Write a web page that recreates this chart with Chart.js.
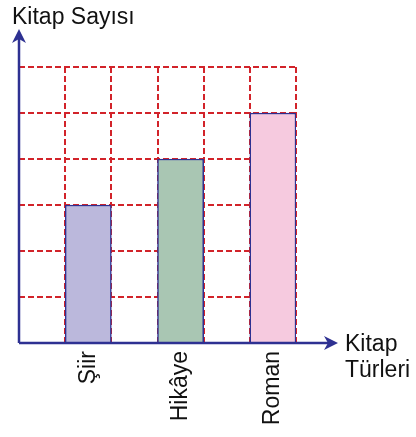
<!DOCTYPE html>
<html>
<head>
<meta charset="utf-8">
<script src="https://cdn.jsdelivr.net/npm/chart.js@4/dist/chart.umd.min.js"></script>
<style>
  html, body { margin: 0; padding: 0; background: #fff; }
  #wrap { width: 416px; height: 437px; position: relative; }
</style>
</head>
<body>
<div id="wrap"><canvas id="bookChart"></canvas></div>
<script>
// slots: empty columns sit between the bars
const categories = ["", "Şiir", "", "Hikâye", "", "Roman"];
const bookCounts = [null, 3, null, 4, null, 5];
const barColors = ["#fff", "#bbb8dc", "#fff", "#a9c6b3", "#fff", "#f6cadf"];
const yTitle = "Kitap Sayısı";
const xTitle = ["Kitap", "Türleri"];

const axisColor = "#2e3192";
const gridColor = "#d2232a";
const fontFamily = "'Liberation Sans', Arial, sans-serif";

function arrowHead(ctx, x, y, dir) {
  ctx.save();
  ctx.translate(x, y);
  ctx.rotate(dir);
  ctx.beginPath();
  ctx.moveTo(0, 0);
  ctx.lineTo(-14, -7);
  ctx.lineTo(-10, 0);
  ctx.lineTo(-14, 7);
  ctx.closePath();
  ctx.fillStyle = axisColor;
  ctx.fill();
  ctx.restore();
}

//Draws the arrowed axes and axis titles
const axesPlugin = {
  id: "arrowAxes",
  afterDatasetsDraw(chart) {
    const { ctx, chartArea } = chart;
    const { left, bottom } = chartArea;
    ctx.save();
    ctx.strokeStyle = axisColor;
    ctx.lineWidth = 2.5;
    ctx.beginPath();
    ctx.moveTo(left, bottom);
    ctx.lineTo(left, 38);
    ctx.moveTo(left, bottom);
    ctx.lineTo(330, bottom);
    ctx.stroke();
    arrowHead(ctx, left, 29, -Math.PI / 2);
    arrowHead(ctx, 338, bottom, 0);

    ctx.fillStyle = "#111";
    ctx.font = "23px " + fontFamily;
    ctx.textBaseline = "alphabetic";
    ctx.fillText(yTitle, 12, 24);
    ctx.fillText(xTitle[0], 345, 351);
    ctx.fillText(xTitle[1], 345, 377);
    ctx.restore();
  },
};

const ctx = document.getElementById("bookChart").getContext("2d");

new Chart(ctx, {
  type: "bar",
  data: {
    labels: categories,
    datasets: [
      {
        data: bookCounts,
        backgroundColor: barColors,
        borderColor: axisColor,
        borderWidth: 1.5,
        barPercentage: 1,
        categoryPercentage: 1,
      },
    ],
  },
  options: {
    responsive: true,
    maintainAspectRatio: false,
    animation: false,
    layout: {
      padding: { left: 19, top: 67, right: 120, bottom: 0 },
    },
    plugins: {
      legend: { display: false },
      tooltip: { enabled: false },
    },
    scales: {
      x: {
        offset: true,
        border: { display: false, dash: [6, 3] },
        grid: {
          offset: true,
          color: gridColor,
          lineWidth: 2,
          drawTicks: false,
        },
        ticks: {
          minRotation: 90,
          maxRotation: 90,
          autoSkip: false,
          padding: 8,
          color: "#111",
          font: { family: fontFamily, size: 23 },
        },
        afterFit(scale) {
          scale.height = 94;
        },
      },
      y: {
        min: 0,
        max: 6,
        border: { display: false, dash: [6, 3] },
        grid: {
          color: gridColor,
          lineWidth: 2,
          drawTicks: false,
        },
        ticks: { display: false, stepSize: 1 },
        afterFit(scale) {
          scale.width = 0;
        },
      },
    },
  },
  plugins: [axesPlugin],
});
</script>
</body>
</html>
